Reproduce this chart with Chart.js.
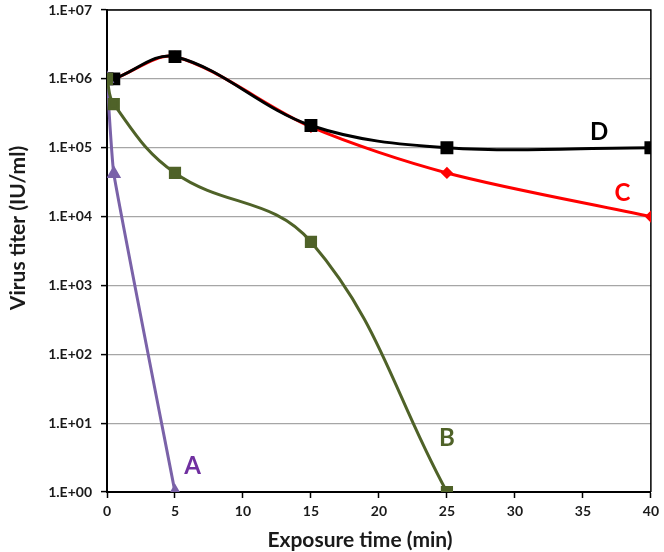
<!DOCTYPE html>
<html>
<head>
<meta charset="utf-8">
<script src="https://cdn.jsdelivr.net/npm/chart.js@4.4.1/dist/chart.umd.min.js"></script>
<style>
  html, body { margin: 0; padding: 0; background: #ffffff; }
  #wrap { width: 664px; height: 552px; }
</style>
</head>
<body>
<div id="wrap"><canvas id="c" width="664" height="552"></canvas></div>
<script>
// ---- data ----
const timeA  = [0, 0.5, 5];
const titerA = [1e6, 4.2e4, 1];

const timeB  = [0, 0.5, 5, 15, 25];
const titerB = [1e6, 4.3e5, 4.3e4, 4.3e3, 1];

const timeC  = [0, 0.5, 5, 15, 25, 40];
const titerC = [1e6, 1e6, 2.1e6, 2.0e5, 4.3e4, 1e4];

const timeD  = [0, 0.5, 5, 15, 25, 40];
const titerD = [1e6, 1e6, 2.1e6, 2.1e5, 1e5, 1e5];

const xTicks = [0, 5, 10, 15, 20, 25, 30, 35, 40];
const yTickExponents = [0, 1, 2, 3, 4, 5, 6, 7];

const seriesNames = ['A', 'B', 'C', 'D'];
const nameX = [6.3, 25.0, 37.9, 36.2];
const nameY = [2.4, 6, 2.2e4, 1.65e5];

const xTitle = 'Exposure time (min)';
const yTitle = 'Virus titer (IU/ml)';

// ---- styles ----
const FONT = 'Lato, "Open Sans", sans-serif';
const colA = '#7A62A8', colALabel = '#7030A0';
const colB = '#4F6228';
const colC = '#FF0000';
const colD = '#000000';
const nameColors = [colALabel, colB, colC, colD];

function pts(xs, ys) { return xs.map((x, i) => ({ x: x, y: ys[i] })); }

const decorPlugin = {
  id: 'decor',
  beforeDatasetsDraw(chart) {
    const { ctx, chartArea: a } = chart;
    ctx.save();
    ctx.strokeStyle = '#000';
    ctx.lineWidth = 1.5;
    ctx.beginPath();
    ctx.moveTo(a.left, a.top);
    ctx.lineTo(a.right, a.top);
    ctx.lineTo(a.right, a.bottom);
    ctx.stroke();
    ctx.restore();
  },
  afterDraw(chart) {
    const { ctx, scales } = chart;
    ctx.save();
    ctx.fillStyle = '#1a1a1a';
    ctx.font = 'bold 21px ' + FONT;
    ctx.textAlign = 'center';
    ctx.textBaseline = 'middle';
    ctx.fillText(xTitle, 360, 540);
    ctx.translate(18, 228);
    ctx.rotate(-Math.PI / 2);
    ctx.fillText(yTitle, 0, 0);
    ctx.restore();
    ctx.save();
    ctx.font = 'bold 24px ' + FONT;
    ctx.textAlign = 'center';
    ctx.textBaseline = 'middle';
    seriesNames.forEach((n, i) => {
      ctx.fillStyle = nameColors[i];
      ctx.fillText(n, scales.x.getPixelForValue(nameX[i]), scales.y.getPixelForValue(nameY[i]));
    });
    ctx.restore();
  }
};

new Chart(document.getElementById('c'), {
  type: 'line',
  data: {
    datasets: [
      { label: 'B', data: pts(timeB, titerB), borderColor: colB, backgroundColor: colB,
        borderWidth: 3, pointStyle: 'rect', pointRadius: 6.5, tension: 0.4 },
      { label: 'A', data: pts(timeA, titerA), borderColor: colA, backgroundColor: colA,
        borderWidth: 3, pointStyle: 'triangle', pointRadius: 5.5, tension: 0.12 },
      { label: 'D', data: pts(timeD, titerD), borderColor: colD, backgroundColor: colD,
        borderWidth: 3, pointStyle: 'rect', pointRadius: 7, tension: 0.35 },
      { label: 'C', data: pts(timeC, titerC), borderColor: colC, backgroundColor: colC,
        borderWidth: 3, pointStyle: 'rectRot', pointRadius: 4, tension: 0.3 }
    ]
  },
  options: {
    responsive: false,
    animation: false,
    devicePixelRatio: 1,
    layout: { padding: { top: 0, right: 7, left: 0, bottom: 0 } },
    plugins: { legend: { display: false }, tooltip: { enabled: false } },
    scales: {
      x: {
        type: 'linear', min: 0, max: 40,
        afterBuildTicks(s) { s.ticks = xTicks.map(v => ({ value: v })); },
        afterFit(s) { s.height = 60; },
        grid: { drawOnChartArea: false, drawTicks: true, tickLength: 6, tickColor: '#000', tickWidth: 1.5 },
        border: { display: true, color: '#000', width: 2 },
        ticks: { color: '#1a1a1a', font: { family: FONT, size: 14, weight: 'bold' }, padding: 5, maxRotation: 0 }
      },
      y: {
        type: 'logarithmic', min: 1, max: 1e7,
        afterBuildTicks(s) { s.ticks = yTickExponents.map(e => ({ value: Math.pow(10, e) })); },
        afterFit(s) { s.width = 107; s.paddingTop = 4; },
        grid: { color: '#a6a6a6', lineWidth: 1.2, drawTicks: true, tickLength: 6, tickColor: '#000', tickWidth: 1.5 },
        border: { display: true, color: '#000', width: 2 },
        ticks: {
          color: '#1a1a1a', font: { family: FONT, size: 14, weight: 'bold' }, padding: 9,
          callback(v) { return '1.E+' + String(Math.round(Math.log10(v))).padStart(2, '0'); }
        }
      }
    }
  },
  plugins: [decorPlugin]
});
</script>
</body>
</html>
